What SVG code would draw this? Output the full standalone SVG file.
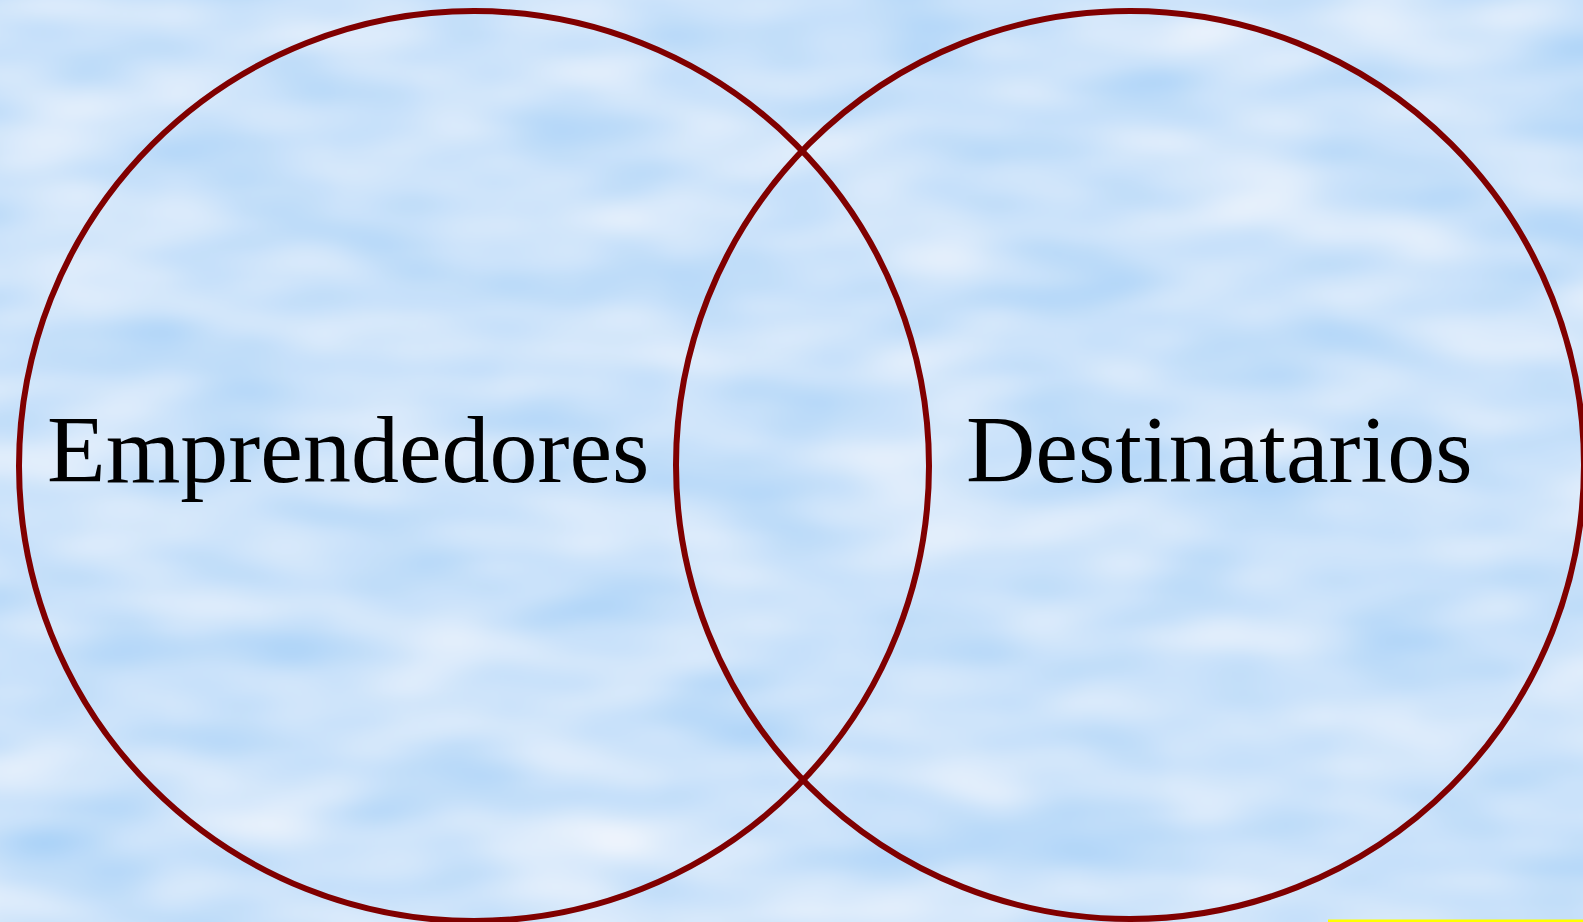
<svg xmlns="http://www.w3.org/2000/svg" width="1583" height="922" viewBox="0 0 1583 922">
  <defs>
    <filter id="clouds" filterUnits="userSpaceOnUse" x="-20" y="-20" width="1623" height="962" color-interpolation-filters="sRGB">
      <feTurbulence type="fractalNoise" baseFrequency="0.006 0.016" numOctaves="2" seed="7" result="n"/>
      <feColorMatrix in="n" type="matrix" values="0.32 0 0 0 0.64  0.16 0 0 0 0.81  0.02 0 0 0 0.97  0 0 0 0 1"/>
      <feGaussianBlur stdDeviation="2"/>
    </filter>
  </defs>
  <style>
    .ring { fill: none; stroke: #800000; stroke-width: 6; }
    .label { font-family: "Liberation Serif", "Times New Roman", serif; font-size: 96px; fill: #000000; }
  </style>
  <rect x="0" y="0" width="1583" height="922" fill="#CFE4FB"/>
  <rect x="-20" y="-20" width="1623" height="962" filter="url(#clouds)"/>
  <g id="connectors"></g>
  <g id="emprendedores">
    <circle class="ring" cx="474" cy="466" r="455"/>
    <text class="label" x="47" y="482">Emprendedores</text>
  </g>
  <g id="destinatarios">
    <circle class="ring" cx="1130" cy="465" r="454"/>
    <text class="label" x="966" y="482">Destinatarios</text>
  </g>
  <rect id="yellow-bar" x="1328" y="919.5" width="255" height="2.5" fill="#FFFF00"/>
</svg>
